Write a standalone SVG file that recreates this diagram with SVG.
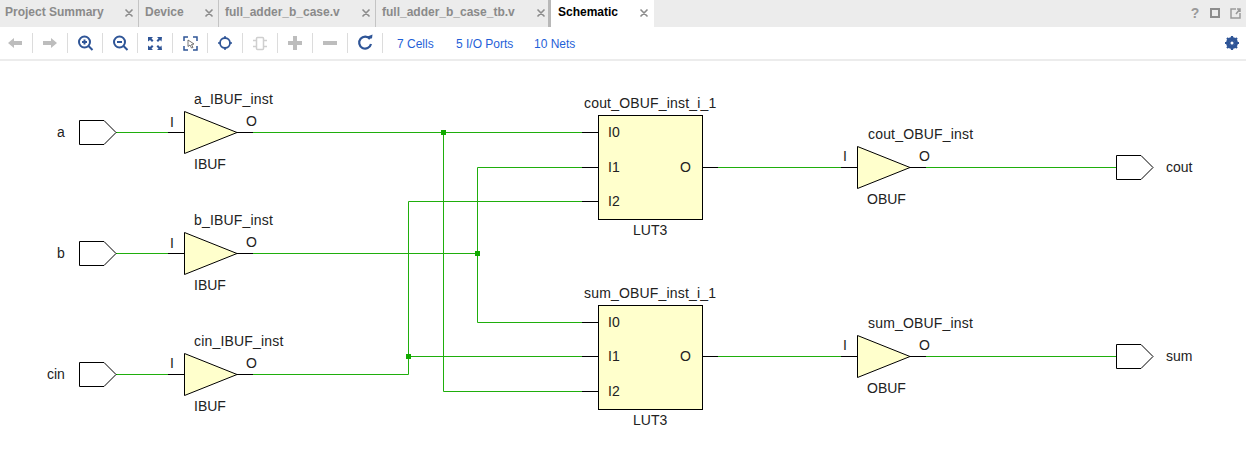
<svg xmlns="http://www.w3.org/2000/svg" width="1246" height="451" viewBox="0 0 1246 451">
<style>
text{font-family:"Liberation Sans",Arial,sans-serif;font-size:14px;fill:#222}
.tab{font-size:12px;font-weight:bold;fill:#8a8a8a}
.lnk{font-size:12px;fill:#1f5fd8}
.x{stroke:#8c8c8c;stroke-width:1.6;fill:none}
.sep{stroke:#dcdcdc;stroke-width:1}
.tsep{stroke:#c4c4c4;stroke-width:1}
.gi{fill:#bdbdbd;stroke:none}
.bi{stroke:#2f5597;fill:none;stroke-width:2}
.bf{fill:#2f5597;stroke:none}
.cell{fill:#ffffcc;stroke:#000;stroke-width:1}
.port{fill:#fff;stroke:#000;stroke-width:1}
.pin{stroke:#000;stroke-width:1;fill:none}
.w{stroke:#1fae0c;stroke-width:1;fill:none}
.j{fill:#12aa00}
.n{letter-spacing:.18px}
</style>
<rect width="1246" height="451" fill="#fff"/>
<g id="chrome">
<rect width="1246" height="27" fill="#ececec"/>
<rect y="59" width="1246" height="2" fill="#ececec"/>
<rect x="551" width="103" height="27" fill="#fff"/>
<rect x="548" width="3" height="27" fill="#b8b8b8"/>
<path class="tsep" d="M138.500 0V27M218.500 0V27M375.500 0V27"/>
<text class="tab" x="5" y="16">Project Summary</text>
<text class="tab" x="145" y="16">Device</text>
<text class="tab" x="225" y="16">full_adder_b_case.v</text>
<text class="tab" x="382" y="16">full_adder_b_case_tb.v</text>
<text class="tab" x="558" y="16" style="fill:#000">Schematic</text>
<path class="x" d="M125.500 9.500l7 7m0-7l-7 7M205.500 9.500l7 7m0-7l-7 7M362.500 9.500l7 7m0-7l-7 7M537.500 9.500l7 7m0-7l-7 7M640.500 9.500l7 7m0-7l-7 7"/>
<text x="1195" y="18" text-anchor="middle" style="font-size:14px;font-weight:bold;fill:#9a9a9a">?</text>
<rect x="1211" y="9" width="8" height="8" fill="none" stroke="#8c8c8c" stroke-width="2"/>
<path d="M1236 9h-5v9h9v-5M1236 14l4-5m-3 0h3v3" fill="none" stroke="#9a9a9a" stroke-width="1.500"/>
<path class="sep" d="M32.500 33V53M67.500 33V53M102.500 33V53M137.500 33V53M172.500 33V53M207.500 33V53M242.500 33V53M277.500 33V53M312.500 33V53M347.500 33V53M382.500 33V53"/>
<path class="gi" d="M8 43l6-5v3h8v4h-8v3zM57 43l-6-5v3h-8v4h8v3z"/>
<circle class="bi" cx="84.500" cy="42" r="5.500"/><path class="bi" d="M88.500 46l4 4M82 42h5M84.500 39.500v5"/>
<circle class="bi" cx="119.500" cy="42" r="5.500"/><path class="bi" d="M123.500 46l4 4M117 42h5"/>
<path class="bf" d="M148 37h5l-1.500 1.500 2 2-1.500 1.500-2-2-2 1.500zM162 37h-5l1.500 1.500-2 2 1.500 1.500 2-2 1.500 1.500zM148 50h5l-1.500-1.500 2-2-1.500-1.500-2 2-2-1.500zM162 50h-5l1.500-1.500-2-2 1.500-1.500 2 2 1.500-1.500z"/>
<path d="M184 41v-4h4M193 37h4v4M197 46v4h-4M188 50h-4v-4" fill="none" stroke="#2f5597" stroke-width="1.500"/>
<path d="M188 40l6 4-2.500 .5 1.500 3-1.500 .5-1.500-3-2 1.500z" fill="#fff" stroke="#555" stroke-width=".8"/>
<circle cx="225" cy="43" r="5" fill="none" stroke="#2f5597" stroke-width="1.800"/>
<path d="M225 36v3M225 47v3M218 43h3M229 43h3" stroke="#2f5597" stroke-width="1.500"/>
<rect x="256.500" y="37.500" width="7" height="12" rx="1" fill="none" stroke="#cfcfcf" stroke-width="1.500"/>
<path d="M253 40.500h3M253 46.500h3M264 40.500h3M264 46.500h3" fill="none" stroke="#cfcfcf" stroke-width="1.500"/>
<path class="gi" d="M288 41h5v-5h4v5h5v4h-5v5h-4v-5h-5zM323 41h14v4h-14z"/>
<path d="M370 39a6 6 0 1 0 1 5" fill="none" stroke="#2f5597" stroke-width="2.200"/>
<path class="bf" d="M365 38h7v-4z" transform="rotate(8 368 38)"/>
<text class="lnk" x="397" y="48">7 Cells</text>
<text class="lnk" x="456" y="48">5 I/O Ports</text>
<text class="lnk" x="534" y="48">10 Nets</text>
<circle cx="1232" cy="43" r="4.500" fill="none" stroke="#2f5597" stroke-width="3"/>
<path d="M1232 36v14M1225 43h14M1227 38l10 10M1237 38l-10 10" stroke="#2f5597" stroke-width="2.200"/>
<circle cx="1232" cy="43" r="1.500" fill="#fff"/>
</g>
<g id="connectors">
<path class="w" d="M116 132.500H168M253 132.500H582M443.500 132.500V391.500H582"/>
<path class="w" d="M116 253.500H168M253 253.500H477.500M477.500 167.500V322.500M477.500 167.500H582M477.500 322.500H582"/>
<path class="w" d="M116 374.500H168M253 374.500H408.500V201.500H582M408.500 356.500H582"/>
<path class="w" d="M718 167.500H841M926 167.500H1116M718 356.500H841M926 356.500H1116"/>
<rect class="j" x="441" y="130" width="5" height="5"/>
<rect class="j" x="475" y="251" width="5" height="5"/>
<rect class="j" x="406" y="354" width="5" height="5"/>
</g>
<g id="port_a"><polygon class="port" points="79.500,120.500 104,120.500 116,132.500 104,144.500 79.500,144.500"/><text x="57" y="137">a</text></g>
<g id="port_b"><polygon class="port" points="79.500,241.500 104,241.500 116,253.500 104,265.500 79.500,265.500"/><text x="57" y="258">b</text></g>
<g id="port_cin"><polygon class="port" points="79.500,362.500 104,362.500 116,374.500 104,386.500 79.500,386.500"/><text x="47" y="379">cin</text></g>
<g id="a_IBUF_inst"><path class="pin" d="M168 132.500H184M237 132.500H253"/><polygon class="cell" points="184.500,111.500 237,132.500 184.500,153.500"/><text x="170" y="127">I</text><text x="246" y="126">O</text><text class="n" x="194" y="104">a_IBUF_inst</text><text x="194" y="169">IBUF</text></g>
<g id="b_IBUF_inst"><path class="pin" d="M168 253.500H184M237 253.500H253"/><polygon class="cell" points="184.500,232.500 237,253.500 184.500,274.500"/><text x="170" y="248">I</text><text x="246" y="247">O</text><text class="n" x="194" y="225">b_IBUF_inst</text><text x="194" y="290">IBUF</text></g>
<g id="cin_IBUF_inst"><path class="pin" d="M168 374.500H184M237 374.500H253"/><polygon class="cell" points="184.500,353.500 237,374.500 184.500,395.500"/><text x="170" y="368">I</text><text x="246" y="368">O</text><text class="n" x="194" y="346">cin_IBUF_inst</text><text x="194" y="411">IBUF</text></g>
<g id="cout_OBUF_inst_i_1"><path class="pin" d="M582 132.500H598M582 167.500H598M582 201.500H598M702 167.500H718"/><rect class="cell" x="598.500" y="115.500" width="104" height="104"/><text x="608" y="137">I0</text><text x="608" y="172">I1</text><text x="608" y="206">I2</text><text x="680" y="172">O</text><text class="n" x="584" y="108">cout_OBUF_inst_i_1</text><text x="633" y="235">LUT3</text></g>
<g id="sum_OBUF_inst_i_1"><path class="pin" d="M582 322.500H598M582 356.500H598M582 391.500H598M702 356.500H718"/><rect class="cell" x="598.500" y="305.500" width="104" height="104"/><text x="608" y="327">I0</text><text x="608" y="361">I1</text><text x="608" y="396">I2</text><text x="680" y="361">O</text><text class="n" x="584" y="298">sum_OBUF_inst_i_1</text><text x="633" y="425">LUT3</text></g>
<g id="cout_OBUF_inst"><path class="pin" d="M841 167.500H857M910 167.500H926"/><polygon class="cell" points="857.500,146.500 910,167.500 857.500,188.500"/><text x="843" y="161">I</text><text x="919" y="161">O</text><text class="n" x="868" y="139">cout_OBUF_inst</text><text x="867" y="204">OBUF</text></g>
<g id="sum_OBUF_inst"><path class="pin" d="M841 356.500H857M910 356.500H926"/><polygon class="cell" points="857.500,335.500 910,356.500 857.500,377.500"/><text x="843" y="350">I</text><text x="919" y="350">O</text><text class="n" x="868" y="328">sum_OBUF_inst</text><text x="867" y="393">OBUF</text></g>
<g id="port_cout"><polygon class="port" points="1116.500,155.500 1141,155.500 1153,167.500 1141,179.500 1116.500,179.500"/><text x="1166" y="172">cout</text></g>
<g id="port_sum"><polygon class="port" points="1116.500,344.500 1141,344.500 1153,356.500 1141,368.500 1116.500,368.500"/><text x="1166" y="361">sum</text></g>
</svg>
